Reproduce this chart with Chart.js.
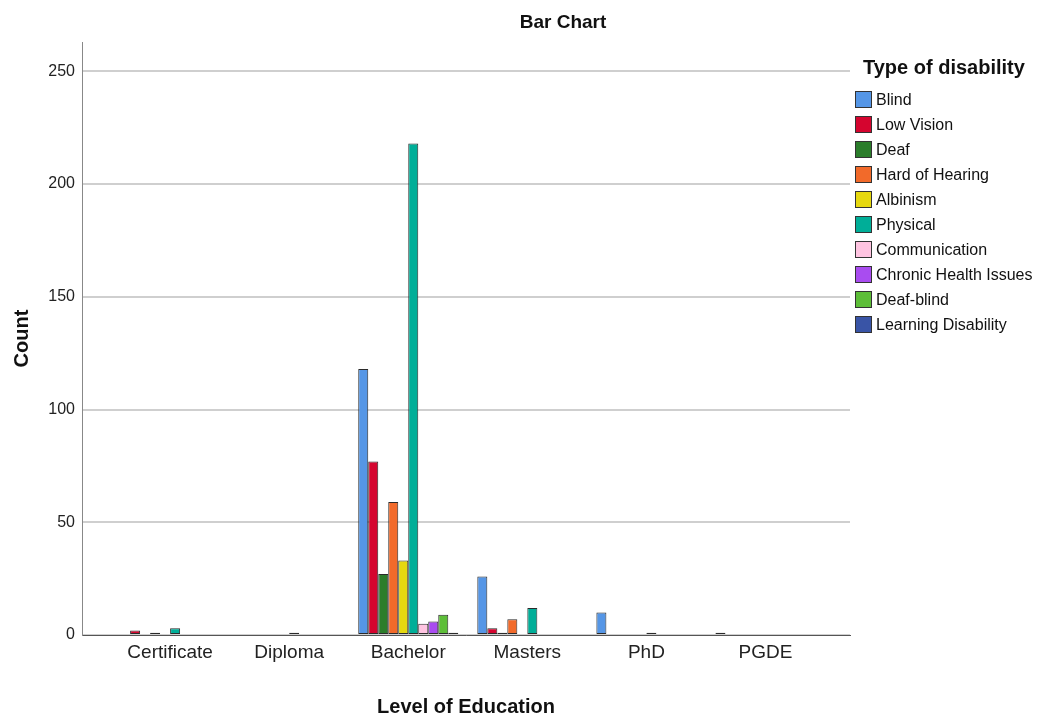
<!DOCTYPE html>
<html>
<head>
<meta charset="utf-8">
<script src="https://cdn.jsdelivr.net/npm/chart.js@4.4.1/dist/chart.umd.min.js"></script>
<style>
  html, body { margin: 0; padding: 0; background: #ffffff; }
  #wrap { position: relative; width: 1051px; height: 719px; }
  #chart { position: absolute; left: 0; top: 0; }
  #title { position: absolute; left: 463px; width: 200px; top: 10px; text-align: center;
           font: bold 19px "Liberation Sans", Arial, sans-serif; color: #111; line-height: 24px; }
  #legend { position: absolute; left: 855px; top: 55px; font-family: "Liberation Sans", Arial, sans-serif; color: #111; }
  #legend .ltitle { font-weight: bold; font-size: 20px; line-height: 24px; height: 32px; margin-left: 8px; }
  #legend .row { display: flex; align-items: center; height: 25px; font-size: 16px; }
  #legend .box { width: 17px; height: 17px; box-sizing: border-box; border: 1px solid #333; margin-right: 4px; }
</style>
</head>
<body>
<div id="wrap">
  <canvas id="chart" width="1051" height="719"></canvas>
  <div id="title">Bar Chart</div>
  <div id="legend"></div>
</div>
<script>
// ---- Data ----
const categories = ["Certificate", "Diploma", "Bachelor", "Masters", "PhD", "PGDE"];
const seriesNames = ["Blind", "Low Vision", "Deaf", "Hard of Hearing", "Albinism", "Physical",
                     "Communication", "Chronic Health Issues", "Deaf-blind", "Learning Disability"];
const blind          = [0, 0, 118, 26, 10, 1];
const lowVision      = [2, 0, 77, 3, 0, 0];
const deaf           = [0, 0, 27, 1, 0, 0];
const hardOfHearing  = [1, 0, 59, 7, 0, 0];
const albinism       = [0, 0, 33, 0, 0, 0];
const physical       = [3, 1, 218, 12, 1, 0];
const communication  = [0, 0, 5, 0, 0, 0];
const chronicHealth  = [0, 0, 6, 0, 0, 0];
const deafBlind      = [0, 0, 9, 0, 0, 0];
const learningDis    = [0, 0, 1, 0, 0, 0];
const yTicks = [0, 50, 100, 150, 200, 250];

const seriesValues = [blind, lowVision, deaf, hardOfHearing, albinism, physical,
                      communication, chronicHealth, deafBlind, learningDis];
const colors = ["#5596E6", "#D5052F", "#2B7D2B", "#F26A2A", "#E6D80F", "#00AE98",
                "#FFC4E1", "#A94CF0", "#5DBE38", "#3954A6"];

const FONT = '"Liberation Sans", Arial, sans-serif';

const datasets = seriesNames.map((name, s) => ({
  label: name,
  data: seriesValues[s].map((v, i) => ({ x: i, y: v === 0 ? null : v })),
  backgroundColor: colors[s],
  borderColor: "#2a2a2a",
  borderWidth: 1,
  borderSkipped: false,
  categoryPercentage: 0.84,
  barPercentage: 1.0
}));

new Chart(document.getElementById("chart"), {
  type: "bar",
  data: { datasets },
  options: {
    responsive: false,
    animation: false,
    layout: { padding: { top: 42, right: 201, left: 0, bottom: 0 } },
    plugins: {
      legend: { display: false },
      title: { display: false },
      tooltip: { enabled: false }
    },
    scales: {
      x: {
        type: "linear",
        offset: false,
        min: -0.74,
        max: 5.71,
        afterFit: s => { s.height = 84; },
        afterBuildTicks: s => { s.ticks = categories.map((c, i) => ({ value: i })); },
        ticks: {
          callback: v => categories[v],
          font: { family: FONT, size: 19 },
          color: "#222",
          padding: 6,
          autoSkip: false,
          maxRotation: 0
        },
        grid: { display: false, drawTicks: false },
        border: { display: true, color: "#555", width: 1 },
        title: {
          display: true, text: "Level of Education",
          font: { family: FONT, size: 20, weight: "bold" }, color: "#111",
          padding: { top: 0, bottom: 0 }
        }
      },
      y: {
        min: 0,
        max: 263,
        afterFit: s => { s.width = 82; },
        afterBuildTicks: s => { s.ticks = yTicks.map(v => ({ value: v })); },
        ticks: {
          font: { family: FONT, size: 16 },
          color: "#222",
          padding: 7
        },
        grid: { color: "#cfcfcf", lineWidth: 2, drawTicks: false },
        border: { display: true, color: "#888", width: 1 },
        title: {
          display: true, text: "Count",
          font: { family: FONT, size: 20, weight: "bold" }, color: "#111",
          padding: { top: 10, bottom: 0 }
        }
      }
    }
  }
});

// HTML legend built from the series arrays
const legend = document.getElementById("legend");
const lt = document.createElement("div");
lt.className = "ltitle";
lt.textContent = "Type of disability";
legend.appendChild(lt);
seriesNames.forEach((name, s) => {
  const row = document.createElement("div");
  row.className = "row";
  const box = document.createElement("span");
  box.className = "box";
  box.style.background = colors[s];
  const txt = document.createElement("span");
  txt.textContent = name;
  row.appendChild(box);
  row.appendChild(txt);
  legend.appendChild(row);
});
</script>
</body>
</html>
